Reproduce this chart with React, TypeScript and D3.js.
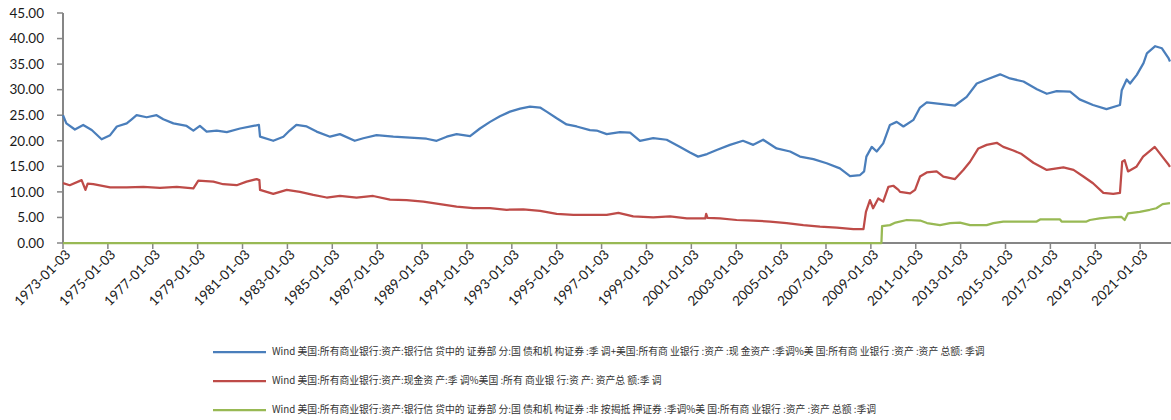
import React from "react";
import * as d3 from "d3";

// ---- data (decimal year, value in %) ----
const blueSeries: [number, number][] = [
  [1973.0, 25.0], [1973.15, 23.4], [1973.53, 22.2], [1973.9, 23.1], [1974.28, 22.1], [1974.72, 20.3],
  [1975.1, 21.1], [1975.4, 22.8], [1975.84, 23.4], [1976.06, 24.2], [1976.28, 25.0], [1976.73, 24.6],
  [1977.17, 25.0], [1977.47, 24.2], [1977.92, 23.4], [1978.51, 22.9], [1978.81, 22.0], [1979.1, 22.9],
  [1979.4, 21.8], [1979.85, 22.0], [1980.3, 21.7], [1980.89, 22.4], [1981.48, 22.9], [1981.73, 23.1],
  [1981.78, 20.8], [1982.37, 20.0], [1982.82, 20.8], [1983.1, 22.0], [1983.4, 23.1], [1983.86, 22.8],
  [1984.3, 21.8], [1984.9, 20.8], [1985.34, 21.3], [1986.0, 20.0], [1986.38, 20.5], [1986.97, 21.1],
  [1987.72, 20.8], [1988.46, 20.6], [1989.2, 20.4], [1989.65, 20.0], [1990.1, 20.8], [1990.54, 21.3],
  [1991.14, 20.9], [1991.58, 22.4], [1992.03, 23.7], [1992.47, 24.8], [1992.92, 25.7], [1993.37, 26.3],
  [1993.81, 26.7], [1994.26, 26.5], [1994.55, 25.7], [1995.0, 24.4], [1995.44, 23.2], [1995.89, 22.8],
  [1996.48, 22.1], [1996.78, 22.0], [1997.23, 21.3], [1997.82, 21.7], [1998.27, 21.6], [1998.71, 20.0],
  [1999.3, 20.5], [1999.9, 20.2], [2000.5, 18.8], [2000.94, 17.7], [2001.3, 16.9], [2001.7, 17.4],
  [2002.13, 18.2], [2002.72, 19.2], [2003.3, 20.0], [2003.76, 19.2], [2004.2, 20.2], [2004.8, 18.5],
  [2005.4, 17.9], [2005.84, 16.9], [2006.44, 16.4], [2007.03, 15.6], [2007.62, 14.6], [2008.07, 13.1],
  [2008.52, 13.3], [2008.7, 14.0], [2008.8, 16.9], [2009.04, 18.8], [2009.26, 17.9], [2009.55, 19.5],
  [2009.85, 23.1], [2010.15, 23.7], [2010.45, 22.8], [2010.9, 24.1], [2011.19, 26.5], [2011.49, 27.5],
  [2012.08, 27.2], [2012.75, 26.9], [2013.27, 28.6], [2013.72, 31.2], [2014.16, 32.0], [2014.76, 33.0],
  [2015.2, 32.2], [2015.8, 31.6], [2016.4, 30.1], [2016.84, 29.2], [2017.28, 29.7], [2017.88, 29.6],
  [2018.3, 28.1], [2018.9, 27.0], [2019.5, 26.2], [2020.1, 27.0], [2020.18, 29.9], [2020.4, 32.0],
  [2020.55, 31.2], [2020.85, 32.9], [2021.15, 35.2], [2021.3, 37.1], [2021.67, 38.5], [2021.97, 38.1],
  [2022.27, 36.1], [2022.33, 35.5],
];

const redSeries: [number, number][] = [
  [1973.0, 11.7], [1973.3, 11.3], [1973.83, 12.3], [1974.0, 10.4], [1974.1, 11.6], [1974.35, 11.5],
  [1975.1, 10.9], [1975.84, 10.9], [1976.58, 11.0], [1977.32, 10.8], [1978.07, 11.0], [1978.81, 10.7],
  [1979.03, 12.2], [1979.7, 12.0], [1980.14, 11.5], [1980.74, 11.3], [1981.18, 12.0], [1981.63, 12.5],
  [1981.75, 12.3], [1981.78, 10.4], [1982.37, 9.6], [1982.97, 10.4], [1983.56, 10.0], [1984.15, 9.4],
  [1984.75, 8.9], [1985.34, 9.2], [1986.08, 8.9], [1986.82, 9.2], [1987.57, 8.5], [1988.31, 8.4],
  [1989.06, 8.1], [1989.8, 7.6], [1990.54, 7.1], [1991.28, 6.8], [1992.03, 6.8], [1992.77, 6.5],
  [1993.51, 6.6], [1994.26, 6.3], [1995.0, 5.7], [1995.74, 5.5], [1996.48, 5.5], [1997.23, 5.5],
  [1997.75, 5.9], [1998.41, 5.2], [1999.3, 5.0], [2000.05, 5.2], [2000.8, 4.8], [2001.62, 4.8],
  [2001.66, 5.7], [2001.72, 4.9], [2002.28, 4.8], [2003.02, 4.5], [2003.76, 4.4], [2004.5, 4.2],
  [2005.25, 3.9], [2005.99, 3.5], [2006.73, 3.2], [2007.48, 3.0], [2008.22, 2.7], [2008.67, 2.7],
  [2008.78, 6.1], [2008.96, 8.4], [2009.1, 6.8], [2009.33, 8.7], [2009.55, 8.1], [2009.78, 11.0],
  [2010.0, 11.2], [2010.23, 10.4], [2010.3, 10.0], [2010.75, 9.7], [2010.97, 10.4], [2011.19, 13.0],
  [2011.49, 13.8], [2011.93, 14.0], [2012.23, 13.0], [2012.75, 12.5], [2013.12, 14.3], [2013.42, 15.9],
  [2013.79, 18.5], [2014.16, 19.2], [2014.61, 19.6], [2014.9, 18.8], [2015.35, 18.1], [2015.72, 17.4],
  [2016.24, 15.7], [2016.84, 14.3], [2017.58, 14.8], [2018.03, 14.3], [2018.47, 13.0], [2018.9, 11.7],
  [2019.36, 9.8], [2019.8, 9.6], [2020.1, 9.8], [2020.2, 15.9], [2020.31, 16.2], [2020.46, 14.0],
  [2020.83, 14.9], [2021.13, 16.9], [2021.65, 18.8], [2021.97, 17.0], [2022.27, 15.3], [2022.33, 14.9],
];

const greenSeries: [number, number][] = [
  [1973.0, 0], [2009.47, 0], [2009.5, 3.3], [2009.85, 3.5], [2010.1, 4.0], [2010.6, 4.5], [2011.2, 4.4],
  [2011.5, 3.9], [2012.08, 3.5], [2012.53, 3.9], [2012.97, 4.0], [2013.42, 3.5], [2014.16, 3.5],
  [2014.46, 3.9], [2014.9, 4.2], [2016.39, 4.2], [2016.54, 4.6], [2017.43, 4.6], [2017.5, 4.2],
  [2018.61, 4.2], [2018.76, 4.5], [2019.2, 4.8], [2019.65, 5.0], [2020.17, 5.1], [2020.31, 4.5],
  [2020.46, 5.8], [2020.98, 6.1], [2021.43, 6.5], [2021.72, 6.8], [2022.0, 7.6], [2022.33, 7.8],
];

const xTickYears: number[] = [
  1973, 1975, 1977, 1979, 1981, 1983, 1985, 1987, 1989, 1991, 1993, 1995, 1997, 1999, 2001, 2003,
  2005, 2007, 2009, 2011, 2013, 2015, 2017, 2019, 2021,
];
const yTicks: number[] = [0, 5, 10, 15, 20, 25, 30, 35, 40, 45];

const legendLabels: string[] = [
  "Wind 美国:所有商业银行:资产:银行信 贷中的 证券部 分:国 债和机 构证券 :季 调+美国:所有商 业银行 :资产 :现 金资产 :季调%美 国:所有商 业银行 :资产 :资产 总额: 季调",
  "Wind 美国:所有商业银行:资产:现金资 产:季 调%美国 :所有 商业银 行:资 产: 资产总 额:季 调",
  "Wind 美国:所有商业银行:资产:银行信 贷中的 证券部 分:国 债和机 构证券 :非 按揭抵 押证券 :季调%美 国:所有商 业银行 :资产 :资产 总额 :季调",
];
const seriesColors: string[] = ["#4a7ebb", "#be4b48", "#98b954"];

export default function App() {
  const W = 1171;
  const H = 420;
  const x = d3.scaleLinear().domain([1973.0, 2022.33]).range([63, 1170]);
  const y = d3.scaleLinear().domain([0, 45]).range([243, 13]);
  const line = d3
    .line<[number, number]>()
    .x((d) => x(d[0]))
    .y((d) => y(d[1]));
  const axisColor = "#868686";
  const tickFont = "Lato, 'Open Sans', sans-serif";
  const series = [blueSeries, redSeries, greenSeries];

  return (
    <svg
      width={W}
      height={H}
      style={{ position: "absolute", left: 0, top: 0, background: "#fff" }}
    >
      {/* Y axis */}
      <line x1={63} x2={63} y1={y(45)} y2={y(0)} stroke={axisColor} strokeWidth={2} />
      {yTicks.map((t) => (
        <g key={t}>
          <line x1={57} x2={63} y1={y(t)} y2={y(t)} stroke={axisColor} strokeWidth={1.5} />
          <text
            x={44}
            y={y(t)}
            dy="0.35em"
            textAnchor="end"
            fontFamily={tickFont}
            fontSize={13.5}
            fill="#1a1a1a"
          >
            {t.toFixed(2)}
          </text>
        </g>
      ))}
      {/* X axis */}
      <line x1={63} x2={1171} y1={y(0)} y2={y(0)} stroke={axisColor} strokeWidth={2} />
      {xTickYears.map((yr) => (
        <g key={yr}>
          <line x1={x(yr)} x2={x(yr)} y1={y(0)} y2={y(0) + 6} stroke={axisColor} strokeWidth={1.5} />
          <text
            transform={`translate(${x(yr) + 5},${y(0) + 9}) rotate(-45)`}
            textAnchor="end"
            dy="0.35em"
            fontFamily={tickFont}
            fontSize={13.5}
            fill="#1a1a1a"
          >
            {`${yr}-01-03`}
          </text>
        </g>
      ))}
      {/* series */}
      {series.map((s, i) => (
        <path
          key={i}
          d={line(s) || ""}
          fill="none"
          stroke={seriesColors[i]}
          strokeWidth={2.25}
          strokeLinejoin="round"
        />
      ))}
      {/* legend */}
      {legendLabels.map((lab, i) => (
        <g key={i} transform={`translate(0,${352 + i * 29})`}>
          <line x1={213} x2={266} y1={0} y2={0} stroke={seriesColors[i]} strokeWidth={2.25} />
          <text
            x={272}
            y={0}
            dy="0.35em"
            fontFamily="'Noto Sans CJK SC', sans-serif"
            fontSize={9.8}
            fill="#333"
          >
            {lab}
          </text>
        </g>
      ))}
    </svg>
  );
}
